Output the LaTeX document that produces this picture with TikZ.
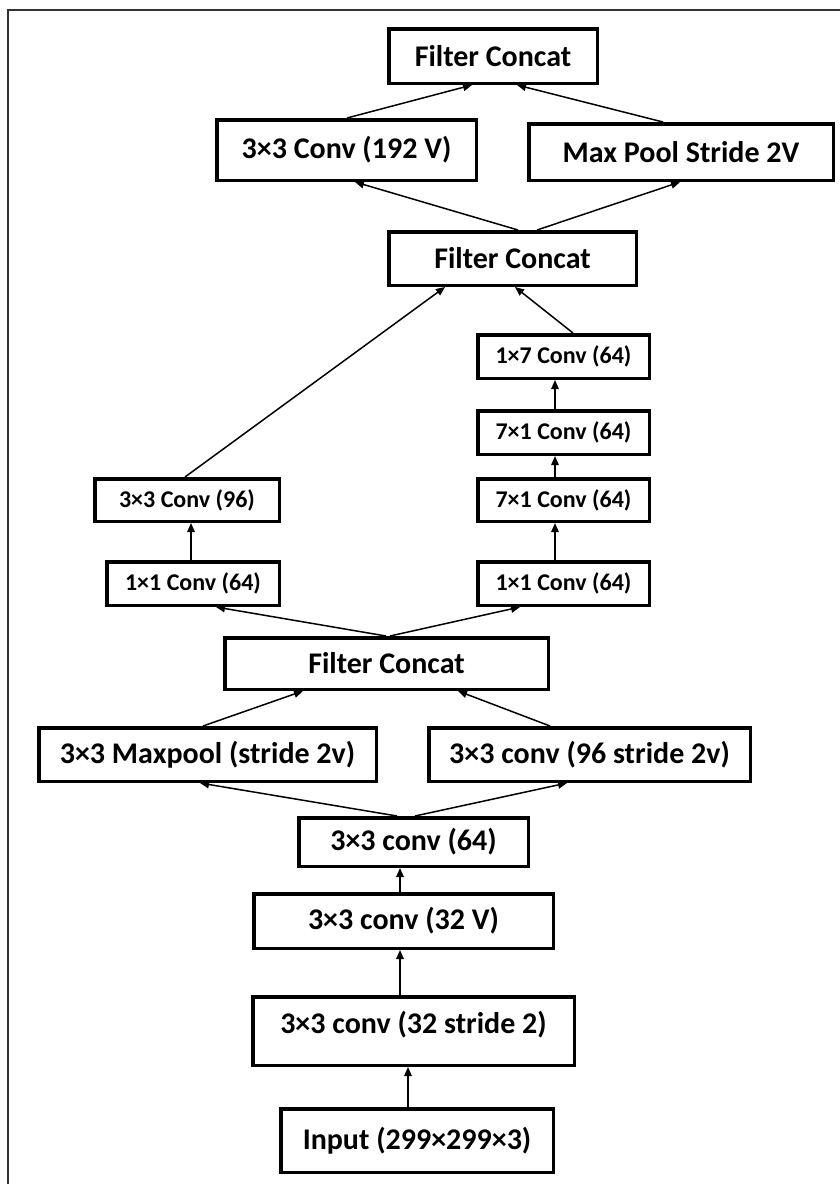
\documentclass[tikz,border=0pt]{standalone}
\usepackage{fontspec}
\setmainfont{Carlito}
\usetikzlibrary{arrows.meta,calc}
\begin{document}
\begin{tikzpicture}[x=1pt,y=-1pt,
  boxbase/.style={draw=black, line width=3.5pt, inner sep=0pt, fill=white},
  bigbox/.style={boxbase, font=\bfseries\fontsize{30}{32}\selectfont},
  smallbox/.style={boxbase, font=\bfseries\fontsize{24}{26}\selectfont},
  conn/.style={-{Triangle[length=9pt,width=7.5pt]}, line width=1.5pt},
  frameline/.style={line width=2pt, draw=black!80}]
\useasboundingbox (0,0) rectangle (840,1184);
\draw[frameline] (8,1184) -- (8,10) -- (840,10);

\node[bigbox, minimum width=208.5pt, minimum height=54.5pt] (A) at (493,56) {Filter Concat};
\node[bigbox, minimum width=259.5pt, minimum height=60.5pt] (B) at (346.5,150) {3×3 Conv (192 V)};
\node[bigbox, minimum width=304.5pt, minimum height=56.5pt] (C) at (681,152) {Max Pool Stride 2V};
\node[bigbox, minimum width=247.5pt, minimum height=53.5pt] (D) at (512.5,258.5) {Filter Concat};
\node[smallbox, minimum width=171.5pt, minimum height=43.5pt] (E) at (563.5,356.5) {1×7 Conv (64)};
\node[smallbox, minimum width=171.5pt, minimum height=43.5pt] (F) at (563.5,432.5) {7×1 Conv (64)};
\node[smallbox, minimum width=184.5pt, minimum height=42.5pt] (G) at (187,500) {3×3 Conv (96)};
\node[smallbox, minimum width=171.5pt, minimum height=42.5pt] (H) at (563.5,500) {7×1 Conv (64)};
\node[smallbox, minimum width=172.5pt, minimum height=43.5pt] (I) at (193,583.5) {1×1 Conv (64)};
\node[smallbox, minimum width=171.5pt, minimum height=43.5pt] (J) at (563.5,583.5) {1×1 Conv (64)};
\node[bigbox, minimum width=323.5pt, minimum height=51.5pt] (K) at (386.5,663.5) {Filter Concat};
\node[bigbox, minimum width=337.5pt, minimum height=53.5pt] (L) at (207.5,754.5) {3×3 Maxpool (stride 2v)};
\node[bigbox, minimum width=321.5pt, minimum height=53.5pt] (M) at (589.5,754.5) {3×3 conv (96 stride 2v)};
\node[bigbox, minimum width=229.5pt, minimum height=48.5pt] (N) at (413.5,842) {3×3 conv (64)};
\node[bigbox, minimum width=299.5pt, minimum height=54.5pt] (O) at (403.5,921) {3×3 conv (32 V)};
\node[bigbox, minimum width=321.5pt, minimum height=68.5pt, text depth=18pt] (P) at (413.5,1031) {3×3 conv (32 stride 2)};
\node[bigbox, minimum width=272.5pt, minimum height=63.5pt] (Q) at (417,1140.5) {Input (299×299×3)};

\draw[conn] ([xshift=0.5pt]B.north) -- ([xshift=-21pt]A.south);
\draw[conn] ([xshift=-18pt]C.north) -- ([xshift=24pt]A.south);
\draw[conn] ([xshift=5.5pt]D.north) -- ([xshift=8.5pt]B.south);
\draw[conn] ([xshift=24.5pt]D.north) -- ([xshift=-1pt]C.south);
\draw[conn] ([xshift=-2pt]G.north) -- ([xshift=-67.5pt]D.south);
\draw[conn] ([xshift=9.5pt]E.north) -- ([xshift=2.5pt]D.south);
\draw[conn] ([xshift=-8.5pt]F.north) -- ([xshift=-8.5pt]E.south);
\draw[conn] ([xshift=-8.5pt]H.north) -- ([xshift=-8.5pt]F.south);
\draw[conn] ([xshift=-8.5pt]J.north) -- ([xshift=-8.5pt]H.south);
\draw[conn] ([xshift=-2pt]I.north) -- ([xshift=4pt]G.south);
\draw[conn] ([xshift=-0.5pt]K.north) -- ([xshift=23pt]I.south);
\draw[conn] ([xshift=3.5pt]K.north) -- ([xshift=-43.5pt]J.south);
\draw[conn] ([xshift=-4.5pt]L.north) -- ([xshift=-83.5pt]K.south);
\draw[conn] ([xshift=-39.5pt]M.north) -- ([xshift=71.5pt]K.south);
\draw[conn] ([xshift=-16.5pt]N.north) -- ([xshift=-7.5pt]L.south);
\draw[conn] ([xshift=1.5pt]N.north) -- ([xshift=-22.5pt]M.south);
\draw[conn] ([xshift=-3.5pt]O.north) -- ([xshift=-13.5pt]N.south);
\draw[conn] ([xshift=-13.5pt]P.north) -- ([xshift=-3.5pt]O.south);
\draw[conn] ([xshift=-9pt]Q.north) -- ([xshift=-5.5pt]P.south);
\end{tikzpicture}
\end{document}
